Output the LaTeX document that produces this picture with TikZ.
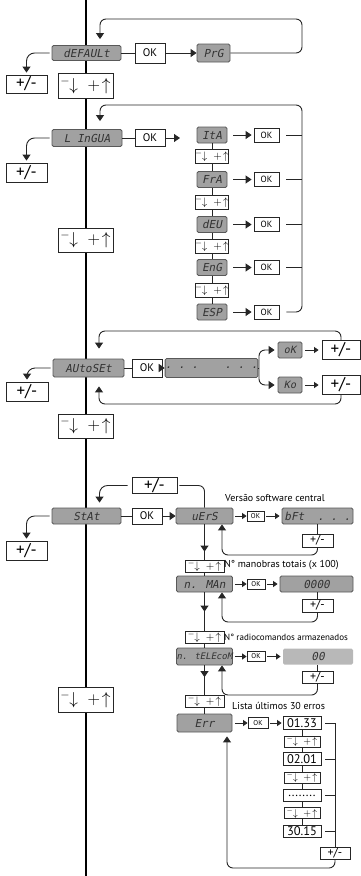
\documentclass[tikz,border=0pt]{standalone}
\usepackage{fontspec}
\setmainfont{PT Sans}
\newfontfamily\lcdfont{DejaVu Sans Mono}[FakeSlant=0.2]
\usetikzlibrary{arrows.meta,calc}
\newcommand{\updn}{$^{-}\!\!\downarrow\;+\!\uparrow$}

\begin{document}
\begin{tikzpicture}[x=1pt,y=-1pt,
  ln/.style={draw=black!85,line width=0.9pt},
  ar/.style={ln,-{Triangle[length=6pt,width=8pt]}},
  sar/.style={ln,-{Triangle[length=4.5pt,width=6pt]}},
  lp/.style={ar,rounded corners=6pt},
  lcd/.style={draw=black!65,fill=black!37,rounded corners=1.5pt,line width=0.8pt,
    inner sep=0pt,text=black!80,font=\lcdfont\fontsize{11}{11}\selectfont},
  btn/.style={draw=black!85,fill=white,line width=0.8pt,inner sep=0pt,
    font=\fontsize{11}{11}\selectfont},
  nav/.style={btn,font=\fontsize{18}{18}\selectfont},
  snav/.style={btn,font=\fontsize{11}{11}\selectfont},
  sok/.style={btn,font=\fontsize{7}{7}\selectfont},
  pm/.style={btn,font=\fontsize{17}{17}\selectfont},
  spm/.style={btn,font=\fontsize{12}{12}\selectfont},
  note/.style={anchor=west,inner sep=0pt,font=\fontsize{10}{12}\selectfont}]
\useasboundingbox (0,0) rectangle (361,876);
% main menu line
\coordinate (top) at (86,0);
\coordinate (bot) at (86,876);
\draw[line width=2pt] (top) -- (bot);

% dEFAULt
\node[lcd,minimum width=69,minimum height=15] (dflt) at (86.5,53) {dEFAULt};
\node[btn,minimum width=30,minimum height=20] (ok1) at (150,53) {OK};
\node[lcd,minimum width=33,minimum height=18] (prg) at (213.5,53) {PrG};
\node[pm,minimum width=41,minimum height=18] (pm1) at (26.5,84) {+/-};
\node[nav,minimum width=55,minimum height=25] (nav1) at (85.5,85.5) {\updn};
\draw[ln] (dflt.east) -- (ok1.west);
\draw[ar] (ok1.east) -- (prg.west);
\draw[lp,shorten >=6pt] (prg.east) -| (302,19) -| ([xshift=13.5pt]dflt.north);
\draw[ar,rounded corners=8pt,shorten >=2pt,shorten <=2pt] (dflt.west) -| (pm1.north);

% L InGUA, one OK per language
\node[lcd,minimum width=70,minimum height=17] (ling) at (87,138) {L InGUA};
\node[btn,minimum width=30,minimum height=17] (ok2) at (150,138) {OK};
\coordinate (lgin) at (180,138);
\coordinate (rl) at (302,105);
\node[pm,minimum width=41,minimum height=19] (pm2) at (26.5,172.5) {+/-};
\node[nav,minimum width=55,minimum height=24] (nav2) at (85.5,240) {\updn};
\draw[ln] (ling.east) -- (ok2.west);
\draw[ar] (ok2.east) -- (lgin);
\draw[ar,rounded corners=8pt,shorten >=2pt,shorten <=2pt] (ling.west) -| (pm2.north);
\foreach \n/\t/\y in {ita/ItA/135,fra/FrA/179.5,deu/dEU/224.5,eng/EnG/267.5,esp/ESP/312} {
  \node[lcd,minimum width=30,minimum height=16] (\n) at (212,\y) {\t};
  \node[btn,minimum width=25,minimum height=14,font=\fontsize{9}{9}\selectfont] (ok\n) at (266.5,\y) {OK};
  \draw[ar,shorten <=6pt,shorten >=2pt] (\n.east) -- (ok\n.west);
}
\foreach \i/\y in {1/156,2/202,3/246,4/290}
  \node[snav,minimum width=33,minimum height=14] (lnv\i) at (212,\y) {\updn};
\foreach \a/\b in {ita/lnv1,lnv1/fra,fra/lnv2,lnv2/deu,deu/lnv3,lnv3/eng,eng/lnv4,lnv4/esp}
  \draw[ln] (\a.south) -- (\b.north);
\foreach \n in {ita,fra,deu,eng}
  \draw[ln] ([xshift=7pt]ok\n.east) -- (ok\n.east -| rl);
\draw[lp,shorten >=8pt] ([xshift=7pt]okesp.east) -| (rl) -| ([xshift=13pt]ling.north);

% AUtoSEt
\node[lcd,minimum width=71,minimum height=18] (auto) at (88.5,368) {AUtoSEt};
\node[btn,minimum width=30,minimum height=18] (ok3) at (147,368) {OK};
\node[lcd,minimum width=71,minimum height=19] (dots) at (211.5,368) {.~.~.~~~~.~.~.};
\node[lcd,minimum width=24,minimum height=16,font=\lcdfont\fontsize{10}{10}\selectfont] (yes) at (290,350) {oK};
\node[lcd,minimum width=24,minimum height=16,font=\lcdfont\fontsize{10}{10}\selectfont] (no) at (290,385) {Ko};
\node[pm,minimum width=38,minimum height=19] (pmok) at (341,350) {+/-};
\node[pm,minimum width=38,minimum height=19] (pmko) at (341,385) {+/-};
\node[pm,minimum width=42,minimum height=19] (pm3) at (27,391.5) {+/-};
\node[nav,minimum width=55,minimum height=24] (nav3) at (85.5,426) {\updn};
\coordinate (fork) at (259,368);
\coordinate (t3) at (99,331);
\coordinate (b3) at (99,404);
\draw[ln] (auto.east) -- (ok3.west);
\draw[ar] (ok3.east) -- (dots.west);
\draw[ln] (dots.east) -- (fork);
\draw[ar,rounded corners=6pt,shorten >=3pt] (fork) |- (yes.west);
\draw[ar,rounded corners=6pt,shorten >=3pt] (fork) |- (no.west);
\draw[sar,shorten <=3pt,shorten >=3pt] (yes.east) -- (pmok.west);
\draw[sar,shorten <=3pt,shorten >=3pt] (no.east) -- (pmko.west);
\draw[lp,shorten >=10pt] (pmok.north) |- (t3) -- ([xshift=10.5pt]auto.north);
\draw[lp,shorten >=9pt] (pmko.south) |- (b3) -- ([xshift=10.5pt]auto.south);
\draw[ar,rounded corners=8pt,shorten >=2pt,shorten <=2pt] (auto.west) -| (pm3.north);

% StAt
\node[lcd,minimum width=69,minimum height=16] (stat) at (86.5,516) {StAt};
\node[btn,minimum width=30,minimum height=16] (ok4) at (147,516) {OK};
\node[pm,minimum width=45,minimum height=16] (pmst) at (154.5,485.5) {+/-};
\node[pm,minimum width=41,minimum height=19] (pm4) at (26.5,550.5) {+/-};
\node[nav,minimum width=55,minimum height=25] (nav4) at (85.5,699.5) {\updn};
\draw[ln] (stat.east) -- (ok4.west);
\draw[ar,rounded corners=8pt,shorten >=2pt,shorten <=2pt] (stat.west) -| (pm4.north);
% version
\node[lcd,minimum width=57,minimum height=16] (uers) at (204.5,516) {uErS};
\node[sok,minimum width=17,minimum height=10] (okv) at (255.5,516) {OK};
\node[lcd,minimum width=71,minimum height=16] (bft) at (317.5,516) {bFt~~.~.~.};
\node[spm,minimum width=31,minimum height=13] (pmv) at (317.5,540.5) {+/-};
\node[note] (tv) at (225,498) {Versão software central};
\draw[ar] (ok4.east) -- (uers.west);
\draw[ln,rounded corners=6pt,shorten <=2pt] (pmst.east) -| (uers.north);
\draw[ar,rounded corners=8pt,shorten >=5pt,shorten <=4pt] (pmst.west) -| ([xshift=13pt]stat.north);
\draw[sar,shorten <=2pt] (uers.east) -- (okv.west);
\draw[sar,shorten <=2pt,shorten >=2pt] (okv.east) -- (bft.west);
\draw[ln] (bft.south) -- (pmv.north);
\draw[lp] (pmv.south) -- (317.5,555) -| ([xshift=17.5pt]uers.south);
% manoeuvres
\node[snav,minimum width=39,minimum height=12] (sn1) at (204.5,566) {\updn};
\node[note] (tm) at (224,565) {N° manobras totais (x 100)};
\node[lcd,minimum width=56,minimum height=16] (nman) at (204.5,584) {n. MAn};
\node[sok,minimum width=18,minimum height=10] (okm) at (256,584) {OK};
\node[lcd,minimum width=73,minimum height=16] (v0) at (316.5,584) {0000};
\node[spm,minimum width=31,minimum height=13] (pmm) at (317.5,605.5) {+/-};
\draw[sar,shorten <=2pt] (nman.east) -- (okm.west);
\draw[sar,shorten <=2pt,shorten >=2pt] (okm.east) -- (v0.west);
\draw[ln] (v0.south -| pmm.north) -- (pmm.north);
\draw[lp] (pmm.south) -- (317.5,622) -| ([xshift=17.5pt]nman.south);
% remote controls
\node[snav,minimum width=39,minimum height=12] (sn2) at (204.5,637) {\updn};
\node[note,font=\fontsize{9}{11}\selectfont] (tr) at (224,637) {N° radiocomandos armazenados};
\node[lcd,minimum width=56,minimum height=17,font=\lcdfont\fontsize{9}{9}\selectfont] (ntel) at (204.5,656.5) {n. tELEcoM};
\node[sok,minimum width=18,minimum height=10] (okt) at (256,656.5) {OK};
\node[lcd,draw=none,fill=black!28,minimum width=70,minimum height=16] (v00) at (318,656.5) {00};
\node[spm,minimum width=31,minimum height=12] (pmt) at (317.5,677.5) {+/-};
\draw[sar,shorten <=2pt] (ntel.east) -- (okt.west);
\draw[sar,shorten <=2pt,shorten >=2pt] (okt.east) -- (v00.west);
\draw[ln] (v00.south -| pmt.north) -- (pmt.north);
\draw[lp] (pmt.south) -- (317.5,695) -| ([xshift=17.5pt]ntel.south);
% errors
\node[snav,minimum width=39,minimum height=12] (sn3) at (204.5,701.5) {\updn};
\node[note] (tl) at (232,706) {Lista últimos 30 erros};
\node[lcd,minimum width=55,minimum height=18] (err) at (204.5,723) {Err};
\node[sok,minimum width=20,minimum height=11] (oke) at (258,723) {OK};
\foreach \n/\t/\y in {e1/01.33/723,e2/02.01/759,e3/{........}/795.5,e4/30.15/831.5}
  \node[btn,minimum width=38,minimum height=12.5,font=\fontsize{12.5}{12.5}\selectfont] (\n) at (302,\y) {\t};
\foreach \i/\y in {1/741.5,2/777.5,3/813}
  \node[snav,minimum width=36,minimum height=11,font=\fontsize{10}{10}\selectfont] (en\i) at (302,\y) {\updn};
\node[spm,minimum width=30,minimum height=12] (pme) at (335,853) {+/-};
\draw[sar,shorten <=3pt] (err.east) -- (oke.west);
\draw[sar,shorten <=2pt,shorten >=1pt] (oke.east) -- (e1.west);
\foreach \a/\b in {e1/en1,en1/e2,e2/en2,en2/e3,e3/en3,en3/e4}
  \draw[ln] (\a.south) -- (\b.north);
\draw[ln] ([xshift=4pt]e1.east) -| (pme.north);
\foreach \n in {e2,e3,e4}
  \draw[ln] ([xshift=4pt]\n.east) -- (\n.east -| pme.north);
\draw[lp,shorten >=4pt] (pme.south) -- (335,868) -| ([xshift=22.5pt]err.south);
% column of StAt submenu
\foreach \a/\b/\s in {uers/sn1/8,nman/sn2/19,ntel/sn3/18} {
  \draw[ln] (\a.south) -- (\b.north);
  \draw[ar] (\a.south) -- ([yshift=\s pt]\b.north);
}
\foreach \a/\b in {sn1/nman,sn2/ntel,sn3/err}
  \draw[ln] (\a.south) -- (\b.north);
\end{tikzpicture}
\end{document}
